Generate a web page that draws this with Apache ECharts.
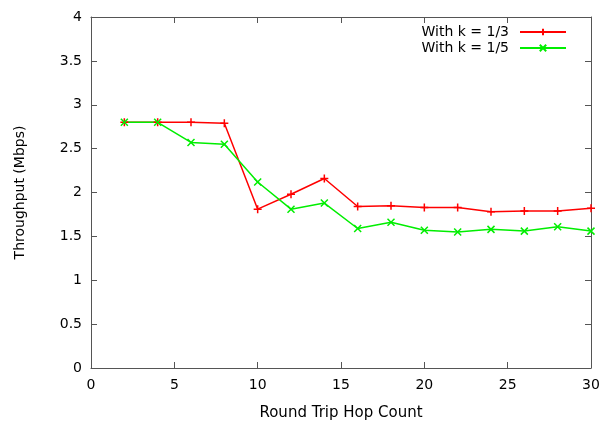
<!DOCTYPE html>
<html>
<head>
<meta charset="utf-8">
<script src="https://cdn.jsdelivr.net/npm/echarts@6/dist/echarts.min.js"></script>
<style>
  html, body { margin: 0; padding: 0; background: #fff; }
  #chart { width: 602px; height: 423px; }
</style>
</head>
<body>
<div id="chart"></div>
<script>
var hops = [2, 4, 6, 8, 10, 12, 14, 16, 18, 20, 22, 24, 26, 28, 30];
var k3 = [2.80, 2.80, 2.80, 2.79, 1.81, 1.98, 2.16, 1.84, 1.85, 1.83, 1.83, 1.78, 1.79, 1.79, 1.82];
var k5 = [2.80, 2.80, 2.57, 2.55, 2.12, 1.81, 1.88, 1.59, 1.66, 1.57, 1.55, 1.58, 1.56, 1.61, 1.56];
var names = ['With k = 1/3', 'With k = 1/5'];

function pairs(xs, ys) {
  return xs.map(function (x, i) { return [x, ys[i]]; });
}

var font = 'DejaVu Sans, sans-serif';
var axisCol = '#555';

var chart = echarts.init(document.getElementById('chart'));

function xAx(pos, show) {
  return {
    type: 'value', position: pos, min: 0, max: 30, interval: 5,
    name: show ? 'Round Trip Hop Count' : '', nameLocation: 'middle', nameGap: 38,
    nameTextStyle: { fontFamily: font, fontSize: 15, color: '#000' },
    axisLine: { show: true, onZero: false, lineStyle: { color: axisCol, width: 1 } },
    axisTick: { show: true, inside: true, length: 6, lineStyle: { color: axisCol } },
    axisLabel: { show: show, fontFamily: font, fontSize: 14, color: '#000', margin: 10 },
    splitLine: { show: false }
  };
}
function yAx(pos, show) {
  return {
    type: 'value', position: pos, min: 0, max: 4, interval: 0.5,
    name: show ? 'Throughput (Mbps)' : '', nameLocation: 'middle', nameGap: 64,
    nameTextStyle: { fontFamily: font, fontSize: 14, color: '#000' },
    axisLine: { show: true, onZero: false, lineStyle: { color: axisCol, width: 1 } },
    axisTick: { show: true, inside: true, length: 6, lineStyle: { color: axisCol } },
    axisLabel: { show: show, fontFamily: font, fontSize: 14, color: '#000', margin: 9 },
    splitLine: { show: false }
  };
}

chart.setOption({
  animation: false,
  backgroundColor: '#fff',
  grid: { left: 91, top: 17, right: 11, bottom: 55, containLabel: false, outerBoundsMode: 'none' },
  legend: {
    top: 20, right: 30, orient: 'vertical', align: 'right',
    itemWidth: 46, itemHeight: 8, itemGap: 2,
    textStyle: { fontFamily: font, fontSize: 14, color: '#000', padding: [0, 6, 0, 0] },
    data: names
  },
  xAxis: [xAx('bottom', true), xAx('top', false)],
  yAxis: [yAx('left', true), yAx('right', false)],
  series: [
    {
      name: names[0], type: 'line', data: pairs(hops, k3),
      symbol: 'path://M0,-1L0,1M-1,0L1,0', symbolSize: 8,
      lineStyle: { color: '#ff0000', width: 1.5 },
      itemStyle: { color: 'none', borderColor: '#ff0000', borderWidth: 1.5 }
    },
    {
      name: names[1], type: 'line', data: pairs(hops, k5),
      symbol: 'path://M-1,-1L1,1M-1,1L1,-1', symbolSize: 7,
      lineStyle: { color: '#00ee00', width: 1.5 },
      itemStyle: { color: 'none', borderColor: '#00ee00', borderWidth: 1.5 }
    }
  ]
});
</script>
</body>
</html>
